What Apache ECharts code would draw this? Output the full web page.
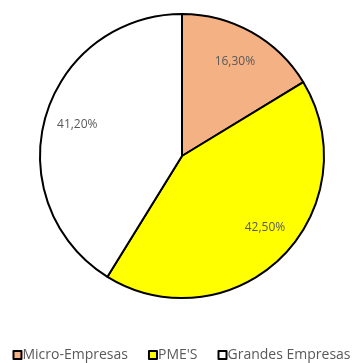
<!DOCTYPE html>
<html>
<head>
<meta charset="utf-8">
<script src="https://cdn.jsdelivr.net/npm/echarts@6/dist/echarts.min.js"></script>
<style>
  html, body { margin: 0; padding: 0; background: #fff; }
  #chart { width: 363px; height: 363px; }
</style>
</head>
<body>
<div id="chart"></div>
<script>
const categories = ["Micro-Empresas", "PME'S", "Grandes Empresas"]
const shares = [16.3, 42.5, 41.2]
const colors = ["#F4B183", "#FFFF00", "#FFFFFF"]

const chart = echarts.init(document.getElementById("chart"))

const sliceData = categories.map((name, i) => ({
  name,
  value: shares[i],
  itemStyle: { color: colors[i] },
}))

// small nudges so the labels sit where Excel put them
const labelNudge = [[-2, 3], [4, -8], [3, -1]]

const fmt = (p) => p.value.toFixed(2).replace(".", ",") + "%"

chart.setOption({
  animation: false,
  legend: {
    top: 343,
    left: "center",
    data: categories,
    icon: "rect",
    itemWidth: 8,
    itemHeight: 8,
    itemGap: 20,
    itemStyle: { borderColor: "#000", borderWidth: 2 },
    textStyle: { color: "#595959", fontSize: 14, fontFamily: "Open Sans", padding: [0, 0, 0, -4] },
  },
  series: [
    {
      type: "pie",
      center: [182, 156],
      radius: 142,
      startAngle: 90,
      clockwise: true,
      silent: true,
      label: { show: false },
      labelLine: { show: false },
      itemStyle: { borderColor: "#000", borderWidth: 2 },
      data: sliceData,
    },
    {
      // label ring only, so texts sit near the rim like the original
      type: "pie",
      center: [182, 156],
      radius: [76, 142],
      startAngle: 90,
      clockwise: true,
      silent: true,
      itemStyle: { color: "rgba(0,0,0,0)", borderWidth: 0 },
      label: {
        show: true,
        position: "inside",
        formatter: fmt,
        color: "#595959",
        fontSize: 12,
        fontFamily: "Open Sans",
      },
      labelLine: { show: false },
      data: categories.map((name, i) => ({
        name,
        value: shares[i],
        label: { offset: labelNudge[i] },
      })),
    },
  ],
})
</script>
</body>
</html>
